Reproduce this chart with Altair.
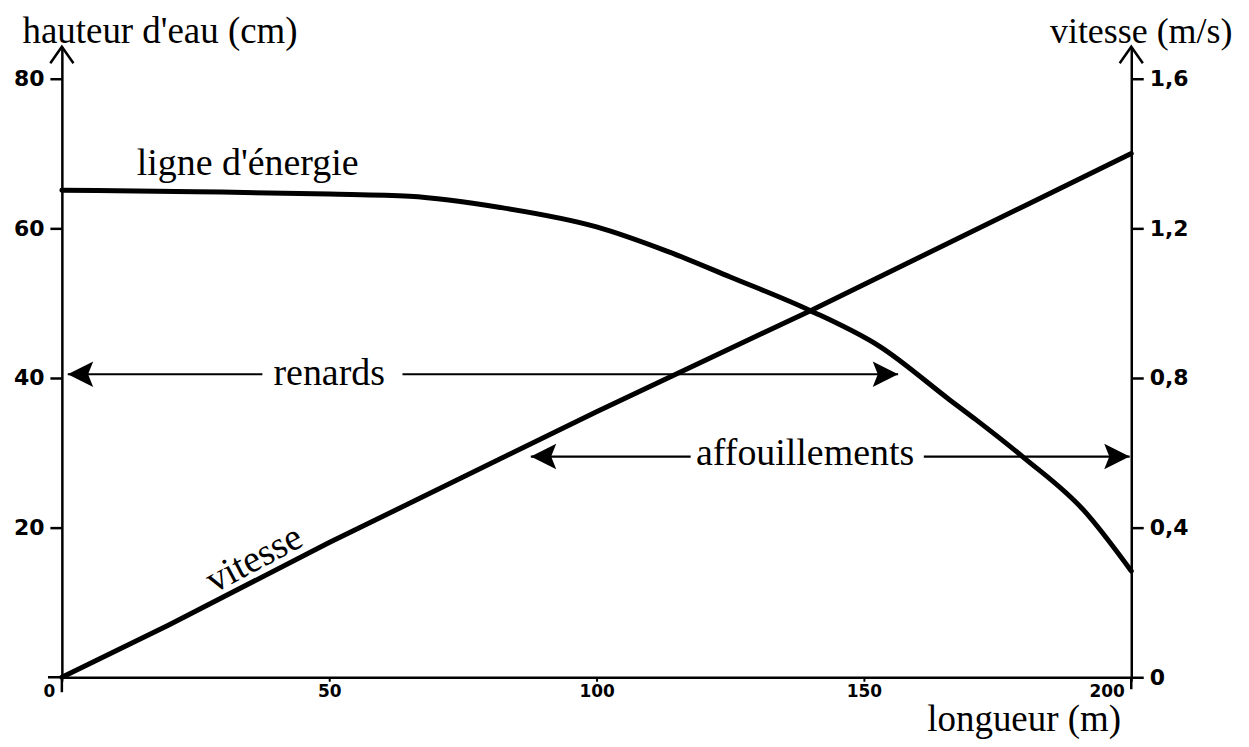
import altair as alt
import pandas as pd

# ---- data ----
# energy line (hauteur d'eau, cm) vs longueur (m)
energy_x = [0, 25, 50, 65, 82, 100, 113, 125, 140, 153, 166, 171, 180, 191, 200]
energy_h = [65.1, 64.9, 64.6, 64.3, 62.8, 60.2, 57.0, 53.5, 49.0, 44.2, 37.1, 34.4, 29.3, 22.4, 14.2]

# vitesse (m/s) vs longueur (m)
vit_x = [0, 20, 50, 100, 140, 180, 200]
vit_v = [0.0, 0.14, 0.36, 0.71, 0.98, 1.26, 1.40]

# annotation arrows (longueur m, hauteur cm)
seg_x1 = [1.1, 63.7, 87.7, 161.2]
seg_x2 = [37.5, 156.4, 117.6, 199.7]
seg_y = [40.5, 40.5, 29.5, 29.5]
head_left_x = [1.1, 87.7]
head_left_y = [40.5, 29.5]
head_right_x = [156.4, 199.7]
head_right_y = [40.5, 29.5]

ann_labels = ["renards", "affouillements"]
ann_x = [50.0, 139.0]
ann_y = [39.1, 28.4]

left_ticks = [20, 40, 60, 80]
right_ticks = [0, 0.4, 0.8, 1.2, 1.6]
x_ticks = [0, 50, 100, 150, 200]

Y_MAX = 84.27
V_MAX = Y_MAX / 50.0

SERIF = "Liberation Serif"
HAND = "DejaVu Sans"

xs = alt.Scale(domain=[0, 200], nice=False)
ys = alt.Scale(domain=[0, Y_MAX], nice=False)
vs = alt.Scale(domain=[0, V_MAX], nice=False)

x_axis = alt.Axis(
    values=x_ticks, grid=False, domainColor="black", domainWidth=2.5,
    tickColor="black", tickWidth=2, tickSize=4, labelPadding=2,
    labelFont=HAND, labelFontSize=17, labelFontWeight="bold", labelColor="black",
    labelAlign={"condition": {"test": "datum.value == 0 || datum.value == 200", "value": "right"}, "value": "center"},
    labelOffset={"condition": {"test": "datum.value == 0 || datum.value == 200", "value": -7}, "value": 0},
    title="longueur (m)", titleFont=SERIF, titleFontSize=37, titleFontWeight="normal",
    titleColor="black", titleAngle=0, titleAlign="left", titleBaseline="alphabetic",
    titleX=867, titleY=53,
)

left_axis = alt.Axis(
    values=left_ticks, grid=False, domainColor="black", domainWidth=2.5,
    tickColor="black", tickWidth=2.5, tickSize=12, labelPadding=6,
    labelFont=HAND, labelFontSize=22, labelFontWeight="bold", labelColor="black",
    title="hauteur d'eau (cm)", titleFont=SERIF, titleFontSize=37, titleFontWeight="normal",
    titleColor="black", titleAngle=0, titleAlign="left", titleBaseline="alphabetic",
    titleX=-40, titleY=-4,
)

right_axis = alt.Axis(
    orient="right", values=right_ticks, grid=False, domainColor="black", domainWidth=2.5,
    tickColor="black", tickWidth=2.5, tickSize=12, labelPadding=6,
    labelFont=HAND, labelFontSize=22, labelFontWeight="bold", labelColor="black",
    labelExpr="datum.value == 0 ? '0' : replace(format(datum.value, '.1f'), '.', ',')",
    title="vitesse (m/s)", titleFont=SERIF, titleFontSize=36, titleFontWeight="normal",
    titleColor="black", titleAngle=0, titleAlign="left", titleBaseline="alphabetic",
    titleX=-82, titleY=-4,
)

df_energy = pd.DataFrame({"x": energy_x, "h": energy_h})
df_vit = pd.DataFrame({"x": vit_x, "v": vit_v})
df_seg = pd.DataFrame({"x": seg_x1, "x2": seg_x2, "y": seg_y})
df_hl = pd.DataFrame({"x": head_left_x, "y": head_left_y})
df_hr = pd.DataFrame({"x": head_right_x, "y": head_right_y})
df_ann = pd.DataFrame({"label": ann_labels, "x": ann_x, "y": ann_y})
df_top = pd.DataFrame({"x": [0, 200], "y": [Y_MAX, Y_MAX]})
df_ext_v = pd.DataFrame({"x": [0, 200], "y": [-2.0, -1.6], "y2": [0, 0]})
df_ext_h = pd.DataFrame({"x": [-2.6], "x2": [0], "y": [0]})
df_lbl_e = pd.DataFrame({"label": ["ligne d'énergie"], "x": [14.0], "y": [67.1]})
df_lbl_v = pd.DataFrame({"label": ["vitesse"], "x": [36.0], "v": [0.315]})

# no axis=None here: a disabled axis in a shared layer would disable the merged axis
X = lambda f="x:Q": alt.X(f, scale=xs)
Y = lambda f="y:Q": alt.Y(f, scale=ys)

energy = alt.Chart(df_energy).mark_line(
    color="black", strokeWidth=5, interpolate="monotone", strokeCap="round"
).encode(x=alt.X("x:Q", scale=xs, axis=x_axis), y=alt.Y("h:Q", scale=ys, axis=left_axis))

segs = alt.Chart(df_seg).mark_rule(color="black", strokeWidth=2.2).encode(
    x=X(), x2="x2:Q", y=Y()
)

heads_left = alt.Chart(df_hl).mark_point(
    shape="M0,0L2,-1L1.6,0L2,1Z", size=650, filled=True, color="black", opacity=1
).encode(x=X(), y=Y())

heads_right = alt.Chart(df_hr).mark_point(
    shape="M0,0L-2,-1L-1.6,0L-2,1Z", size=650, filled=True, color="black", opacity=1
).encode(x=X(), y=Y())

ann_text = alt.Chart(df_ann).mark_text(
    font=SERIF, fontSize=38, color="black", align="center", baseline="alphabetic"
).encode(x=X(), y=Y(), text="label:N")

lbl_energy = alt.Chart(df_lbl_e).mark_text(
    font=SERIF, fontSize=38, color="black", align="left", baseline="alphabetic"
).encode(x=X(), y=Y(), text="label:N")

tops = alt.Chart(df_top).mark_point(
    shape="M-0.7,1L0,0L0.7,1", size=1100, filled=False, color="black",
    strokeWidth=2.5, opacity=1
).encode(x=X(), y=Y())

ext_v = alt.Chart(df_ext_v).mark_rule(color="black", strokeWidth=2.5).encode(
    x=X(), y=Y(), y2="y2:Q"
)
ext_h = alt.Chart(df_ext_h).mark_rule(color="black", strokeWidth=2.5).encode(
    x=X(), x2="x2:Q", y=Y()
)

group_cm = alt.layer(energy, segs, heads_left, heads_right, ann_text, lbl_energy, tops, ext_v, ext_h)

vitesse = alt.Chart(df_vit).mark_line(
    color="black", strokeWidth=5, strokeCap="round"
).encode(x=X(), y=alt.Y("v:Q", scale=vs, axis=right_axis))

lbl_vit = alt.Chart(df_lbl_v).mark_text(
    font=SERIF, fontSize=38, color="black", align="center", baseline="middle", angle=332
).encode(x=X(), y=alt.Y("v:Q", scale=vs), text="label:N")

group_v = alt.layer(vitesse, lbl_vit)

chart = alt.layer(group_cm, group_v).resolve_scale(y="independent").properties(
    width=1072, height=632,
    autosize=alt.AutoSizeParams(type="none"),
    padding={"left": 54, "top": 38, "right": 110, "bottom": 61},
    background="white",
).configure_view(stroke=None)

chart.save("out.html", embed_options={"renderer": "svg", "actions": False})
